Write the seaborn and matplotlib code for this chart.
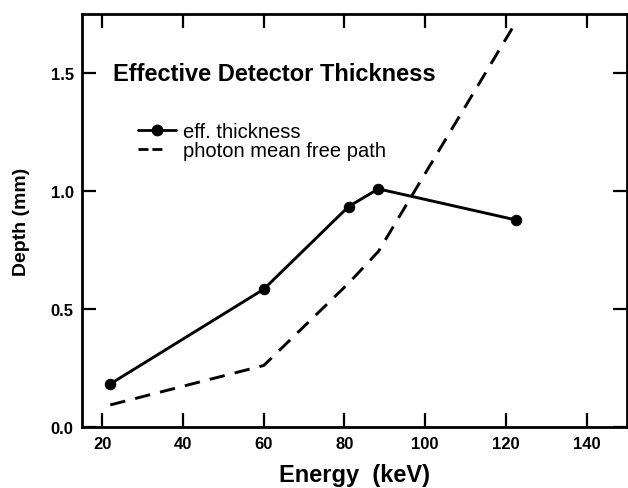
import matplotlib
matplotlib.use("Agg")
import matplotlib.pyplot as plt
import seaborn as sns
import pandas as pd
from matplotlib.lines import Line2D

# Data
energy_eff = [22, 60, 81, 88.4, 122.6]
depth_eff = [0.184, 0.585, 0.935, 1.01, 0.878]
energy_mfp = [22, 60, 81, 88.4, 122.6]
depth_mfp = [0.095, 0.262, 0.61, 0.745, 1.72]
xticks = [20, 40, 60, 80, 100, 120, 140]
yticks = [0.0, 0.5, 1.0, 1.5]
ytick_labels = ["0.0", "0.5", "1.0", "1.5"]

sns.set_style("ticks")
plt.rcParams["font.family"] = ["Liberation Sans", "DejaVu Sans"]
plt.rcParams["text.color"] = "black"
plt.rcParams["axes.labelcolor"] = "black"
plt.rcParams["xtick.color"] = "black"
plt.rcParams["ytick.color"] = "black"

fig = plt.figure(figsize=(6.28, 4.89), dpi=100)
ax = fig.add_axes([0.1306, 0.124, 0.868, 0.845])

df_eff = pd.DataFrame({"Energy": energy_eff, "Depth": depth_eff})
df_mfp = pd.DataFrame({"Energy": energy_mfp, "Depth": depth_mfp})

sns.lineplot(data=df_eff, x="Energy", y="Depth", ax=ax, color="black",
             lw=2.1, marker="o", markersize=7.5, markeredgecolor="black",
             sort=False)
sns.lineplot(data=df_mfp, x="Energy", y="Depth", ax=ax, color="black",
             lw=2.1, sort=False, dashes=False)
ax.lines[-1].set_dashes((5.3, 3.5))

ax.set_xlim(15, 150)
ax.set_ylim(0, 1.75)
ax.set_xticks(xticks)
ax.set_xticklabels([str(t) for t in xticks], fontweight="bold", fontsize=12)
ax.set_yticks(yticks)
ax.set_yticklabels(ytick_labels, fontweight="bold", fontsize=12)
ax.tick_params(direction="in", length=10, width=1.6, top=True, right=True,
               pad=6, colors="black")
for s in ax.spines.values():
    s.set_visible(True)
    s.set_linewidth(2.0)
    s.set_color("black")

ax.set_xlabel("Energy  (keV)", fontsize=17, fontweight="bold", labelpad=9)
ax.set_ylabel("Depth (mm)", fontsize=14, fontweight="bold", labelpad=15)

ax.text(22.6, 1.5, "Effective Detector Thickness", fontsize=17,
        fontweight="bold", va="center", ha="left")

handles = [
    Line2D([0], [0], color="black", lw=2.0, marker="o", markersize=7.5),
    Line2D([0], [0], color="black", lw=2.0, dashes=(3.6, 1.4, 3.6, 8)),
]
leg = ax.legend(handles, ["eff. thickness", "photon mean free path"],
                loc="upper left", bbox_to_anchor=(0.103, 0.740), frameon=False,
                fontsize=14.5, handlelength=1.9, handletextpad=0.35,
                labelspacing=0.0, borderaxespad=0, borderpad=0)

fig.savefig("out.png", dpi=100)
